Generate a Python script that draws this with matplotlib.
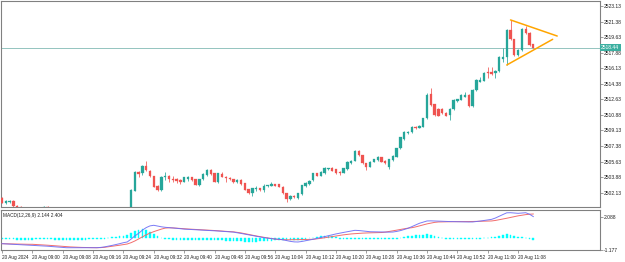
import matplotlib
matplotlib.use("Agg")
import matplotlib.pyplot as plt
import numpy as np

plt.rcParams['font.family'] = ['Liberation Sans', 'DejaVu Sans']

# ---------------- data ----------------
opens = [2501.50, 2500.97, 2501.08, 2501.23, 2500.66, 2500.55, 2500.30, 2500.05, 2499.90, 2500.10,
         2500.00, 2500.20, 2500.55, 2500.30, 2500.05, 2499.80, 2499.60, 2499.70, 2499.45, 2499.30,
         2499.40, 2499.25, 2499.35, 2499.20, 2499.30, 2499.50, 2499.40, 2499.60, 2499.75, 2499.65,
         2499.85, 2500.00, 2499.90, 2500.05, 2500.10, 2502.35, 2504.42, 2504.31, 2505.16, 2504.60,
         2504.01, 2502.88, 2502.43, 2503.86, 2504.01, 2503.70, 2503.63, 2503.56, 2503.36, 2503.67,
         2503.86, 2503.63, 2502.99, 2503.63, 2504.12, 2504.68, 2504.31, 2503.33, 2504.23, 2503.93,
         2503.81, 2503.63, 2503.30, 2503.56, 2503.18, 2502.51, 2502.06, 2502.54, 2502.62, 2502.43,
         2502.88, 2502.92, 2503.07, 2503.07, 2502.80, 2502.06, 2501.45, 2501.75, 2501.50, 2501.98,
         2502.88, 2503.11, 2503.56, 2504.31, 2504.04, 2504.31, 2504.76, 2504.94, 2504.76, 2504.49,
         2504.38, 2504.76, 2505.50, 2505.72, 2506.82, 2506.37, 2505.43, 2505.05, 2505.61, 2505.81,
         2506.11, 2505.72, 2504.98, 2505.81, 2506.18, 2507.12, 2508.17, 2508.80, 2508.92, 2509.55,
         2509.44, 2509.55, 2510.49, 2513.19, 2512.07, 2511.51, 2511.51, 2511.12, 2510.87, 2511.51,
         2512.44, 2512.56, 2512.93, 2513.12, 2511.88, 2513.68, 2514.62, 2514.72, 2515.74, 2515.74,
         2515.63, 2515.82, 2517.20, 2517.43, 2520.43, 2519.38, 2517.61, 2518.18, 2520.51, 2520.13,
         2518.82]
highs = [2501.60, 2501.30, 2501.28, 2501.30, 2500.72, 2500.60, 2500.35, 2500.15, 2500.20, 2500.25,
         2500.30, 2500.62, 2500.62, 2500.35, 2500.10, 2499.90, 2499.80, 2499.75, 2499.55, 2499.50,
         2499.50, 2499.45, 2499.40, 2499.40, 2499.60, 2499.60, 2499.70, 2499.85, 2499.85, 2499.95,
         2500.10, 2500.10, 2500.15, 2500.20, 2502.50, 2504.55, 2504.60, 2505.20, 2505.69, 2504.70,
         2504.05, 2502.95, 2504.00, 2504.49, 2504.10, 2504.00, 2503.75, 2503.65, 2503.93, 2504.05,
         2503.95, 2503.70, 2503.70, 2504.30, 2504.80, 2504.75, 2504.35, 2504.40, 2504.45, 2504.05,
         2503.90, 2503.70, 2503.62, 2503.62, 2503.22, 2502.60, 2502.70, 2502.85, 2502.70, 2503.11,
         2503.05, 2503.33, 2503.15, 2503.12, 2502.85, 2502.10, 2501.85, 2501.85, 2502.12, 2503.05,
         2503.35, 2503.56, 2504.40, 2504.40, 2504.60, 2504.98, 2504.95, 2505.00, 2504.82, 2504.55,
         2504.95, 2505.70, 2505.80, 2506.90, 2506.90, 2506.42, 2505.50, 2505.70, 2505.95, 2506.25,
         2506.18, 2505.78, 2505.95, 2506.32, 2507.20, 2508.42, 2509.05, 2509.10, 2509.62, 2509.62,
         2509.75, 2510.55, 2513.38, 2513.87, 2512.15, 2511.60, 2511.60, 2511.20, 2511.60, 2512.65,
         2512.72, 2513.20, 2513.49, 2513.20, 2513.75, 2514.88, 2515.18, 2515.70, 2516.30, 2516.30,
         2515.95, 2517.50, 2518.37, 2520.50, 2521.56, 2519.45, 2518.25, 2520.60, 2520.88, 2520.20,
         2518.90]
lows = [2500.95, 2500.90, 2501.00, 2500.55, 2500.40, 2500.25, 2499.95, 2499.80, 2499.85, 2499.90,
        2499.95, 2500.15, 2500.30, 2499.95, 2499.70, 2499.50, 2499.50, 2499.35, 2499.20, 2499.20,
        2499.15, 2499.15, 2499.10, 2499.10, 2499.25, 2499.30, 2499.35, 2499.50, 2499.55, 2499.60,
        2499.80, 2499.80, 2499.85, 2500.00, 2500.00, 2502.30, 2503.93, 2504.08, 2504.60, 2503.95,
        2502.75, 2502.30, 2502.35, 2503.56, 2503.36, 2503.30, 2503.18, 2503.10, 2503.30, 2503.50,
        2503.50, 2502.95, 2502.90, 2503.55, 2504.05, 2504.15, 2503.28, 2503.25, 2503.88, 2503.30,
        2503.55, 2503.20, 2503.22, 2503.05, 2502.38, 2501.98, 2501.78, 2502.33, 2502.35, 2502.24,
        2502.80, 2502.88, 2502.85, 2502.75, 2502.00, 2501.11, 2501.31, 2501.55, 2501.45, 2501.90,
        2502.80, 2503.05, 2503.50, 2503.98, 2503.98, 2504.25, 2504.70, 2504.55, 2504.25, 2504.10,
        2504.30, 2504.70, 2505.40, 2505.65, 2506.30, 2505.38, 2504.68, 2504.98, 2505.55, 2505.75,
        2505.55, 2505.35, 2504.85, 2505.75, 2506.12, 2507.05, 2508.10, 2508.72, 2508.85, 2509.30,
        2509.38, 2509.48, 2510.42, 2511.90, 2510.80, 2510.70, 2510.98, 2510.70, 2510.31, 2511.45,
        2512.35, 2512.50, 2512.88, 2511.80, 2511.80, 2513.60, 2514.55, 2514.65, 2515.00, 2515.40,
        2514.99, 2515.75, 2516.86, 2516.49, 2519.30, 2517.55, 2517.50, 2518.10, 2520.00, 2518.68,
        2518.35]
closes = [2501.00, 2501.23, 2501.20, 2500.63, 2500.48, 2500.37, 2500.05, 2499.90, 2500.10, 2500.00,
          2500.20, 2500.55, 2500.37, 2500.05, 2499.80, 2499.60, 2499.70, 2499.45, 2499.30, 2499.40,
          2499.25, 2499.35, 2499.20, 2499.30, 2499.50, 2499.40, 2499.60, 2499.75, 2499.65, 2499.85,
          2500.00, 2499.90, 2500.05, 2500.10, 2502.43, 2504.49, 2504.20, 2505.13, 2504.68, 2504.01,
          2502.80, 2502.43, 2503.93, 2504.01, 2503.63, 2503.56, 2503.44, 2503.30, 2503.86, 2503.86,
          2503.56, 2502.99, 2503.63, 2504.23, 2504.68, 2504.23, 2503.33, 2504.31, 2503.93, 2503.81,
          2503.63, 2503.30, 2503.56, 2503.11, 2502.43, 2502.06, 2502.62, 2502.69, 2502.43, 2502.92,
          2502.99, 2503.07, 2502.92, 2502.80, 2502.06, 2501.38, 2501.75, 2501.61, 2502.06, 2502.99,
          2503.25, 2503.44, 2504.31, 2504.04, 2504.49, 2504.87, 2504.87, 2504.60, 2504.31, 2504.31,
          2504.87, 2505.61, 2505.69, 2506.82, 2506.37, 2505.43, 2504.98, 2505.61, 2505.88, 2506.18,
          2505.61, 2505.43, 2505.88, 2506.26, 2507.12, 2508.36, 2508.92, 2508.99, 2509.55, 2509.37,
          2509.66, 2510.49, 2513.12, 2511.99, 2510.87, 2510.76, 2511.06, 2510.76, 2511.51, 2512.56,
          2512.63, 2513.12, 2513.12, 2511.88, 2513.68, 2514.81, 2514.81, 2515.62, 2515.56, 2515.48,
          2515.85, 2517.43, 2517.43, 2520.43, 2519.38, 2517.61, 2518.18, 2520.51, 2520.06, 2518.74,
          2518.44]

macd_line = [-0.55, -0.57, -0.59, -0.61, -0.64, -0.66, -0.68, -0.70, -0.71, -0.73,
             -0.75, -0.77, -0.80, -0.83, -0.86, -0.89, -0.92, -0.95, -0.95, -0.96,
             -0.96, -0.96, -0.95, -0.95, -0.95, -0.95, -0.92, -0.87, -0.80, -0.72,
             -0.64, -0.55, -0.45, -0.38, -0.10, 0.22, 0.48, 0.80, 1.05, 1.22,
             1.28, 1.20, 1.13, 1.08, 1.05, 1.02, 0.98, 0.94, 0.90, 0.88,
             0.86, 0.84, 0.82, 0.80, 0.78, 0.76, 0.74, 0.71, 0.68, 0.65,
             0.62, 0.60, 0.54, 0.47, 0.40, 0.32, 0.26, 0.19, 0.12, 0.05,
             0.00, -0.05, -0.09, -0.11, -0.16, -0.24, -0.32, -0.37, -0.38, -0.33,
             -0.26, -0.18, -0.11, -0.02, 0.07, 0.17, 0.26, 0.35, 0.42, 0.50,
             0.57, 0.64, 0.71, 0.78, 0.76, 0.72, 0.67, 0.64, 0.63, 0.62,
             0.61, 0.60, 0.60, 0.61, 0.67, 0.75, 0.86, 0.98, 1.15, 1.32,
             1.48, 1.60, 1.71, 1.72, 1.71, 1.70, 1.68, 1.66, 1.65, 1.64,
             1.63, 1.62, 1.62, 1.61, 1.61, 1.65, 1.70, 1.76, 1.81, 1.87,
             2.00, 2.18, 2.35, 2.52, 2.53, 2.50, 2.47, 2.50, 2.53, 2.38,
             2.144]
signal_line = [-0.55, -0.56, -0.57, -0.58, -0.59, -0.60, -0.60, -0.61, -0.61, -0.63,
               -0.65, -0.68, -0.70, -0.73, -0.76, -0.79, -0.82, -0.85, -0.87, -0.89,
               -0.91, -0.92, -0.93, -0.94, -0.95, -0.95, -0.94, -0.91, -0.86, -0.81,
               -0.76, -0.70, -0.64, -0.58, -0.45, -0.28, -0.08, 0.12, 0.33, 0.50,
               0.65, 0.78, 0.90, 1.00, 1.03, 1.02, 0.99, 0.96, 0.93, 0.91,
               0.89, 0.87, 0.85, 0.83, 0.81, 0.79, 0.76, 0.73, 0.70, 0.67,
               0.65, 0.63, 0.58, 0.52, 0.45, 0.37, 0.29, 0.22, 0.15, 0.08,
               0.02, -0.04, -0.09, -0.13, -0.15, -0.16, -0.16, -0.16, -0.15, -0.14,
               -0.13, -0.12, -0.11, -0.07, -0.02, 0.04, 0.10, 0.16, 0.22, 0.28,
               0.33, 0.38, 0.42, 0.45, 0.48, 0.50, 0.52, 0.53, 0.54, 0.54,
               0.56, 0.60, 0.66, 0.73, 0.80, 0.87, 0.94, 1.00, 1.04, 1.12,
               1.22, 1.32, 1.42, 1.50, 1.57, 1.61, 1.62, 1.63, 1.63, 1.64,
               1.64, 1.64, 1.64, 1.65, 1.66, 1.67, 1.68, 1.69, 1.70, 1.71,
               1.76, 1.83, 1.90, 1.98, 2.06, 2.14, 2.22, 2.28, 2.34, 2.38,
               2.404]
macd_hist = [-0.12, -0.12, -0.13, -0.13, -0.14, -0.14, -0.15, -0.15, -0.14, -0.13,
             -0.12, -0.11, -0.12, -0.13, -0.14, -0.15, -0.15, -0.16, -0.16, -0.15,
             -0.15, -0.14, -0.14, -0.13, -0.12, -0.10, -0.07, -0.04, 0.02, 0.08,
             0.14, 0.19, 0.25, 0.36, 0.52, 0.70, 0.86, 0.95, 0.85, 0.62,
             0.40, 0.20, 0.05, -0.08, -0.12, -0.14, -0.15, -0.15, -0.15, -0.15,
             -0.15, -0.15, -0.15, -0.15, -0.15, -0.15, -0.18, -0.20, -0.22, -0.24,
             -0.26, -0.28, -0.30, -0.32, -0.34, -0.35, -0.36, -0.35, -0.33, -0.30,
             -0.27, -0.24, -0.21, -0.19, -0.19, -0.19, -0.19, -0.19, -0.19, -0.19,
             -0.19, -0.02, 0.05, 0.12, 0.18, 0.22, 0.22, 0.18, 0.08, -0.05,
             -0.10, -0.10, -0.10, -0.10, -0.10, -0.10, -0.10, -0.10, -0.10, -0.10,
             -0.10, -0.10, -0.10, -0.10, -0.10, 0.05, 0.12, 0.18, 0.24, 0.28,
             0.30, 0.34, 0.39, 0.35, 0.25, 0.12, -0.02, -0.12, -0.12, -0.12,
             -0.12, -0.12, -0.12, -0.12, -0.12, -0.12, -0.12, 0.00, 0.05, 0.10,
             0.14, 0.20, 0.30, 0.39, 0.30, 0.20, 0.14, 0.12, 0.06, -0.08,
             -0.20]

time_labels = ["20 Aug 2024", "20 Aug 09:00", "20 Aug 09:08", "20 Aug 09:16", "20 Aug 09:24",
               "20 Aug 09:32", "20 Aug 09:40", "20 Aug 09:48", "20 Aug 09:56", "20 Aug 10:04",
               "20 Aug 10:12", "20 Aug 10:20", "20 Aug 10:28", "20 Aug 10:36", "20 Aug 10:44",
               "20 Aug 10:52", "20 Aug 11:00", "20 Aug 11:08"]
bars_per_label = 8
price_ticks = [2502.13, 2503.88, 2505.63, 2507.38, 2509.13, 2510.88, 2512.63,
               2514.38, 2516.13, 2517.88, 2519.63, 2521.38, 2523.13]
macd_ticks = [-1.177, 2.088]
macd_legend = "MACD(12,26,9) 2.144 2.404"

# triangle trend lines (bar index, price)
upper_line_idx = [134, 146.3]
upper_line_price = [2521.56, 2519.75]
lower_line_idx = [133, 145.1]
lower_line_price = [2516.49, 2519.38]

# ---------------- drawing ----------------
W, H = 625, 262
fig = plt.figure(figsize=(W / 100, H / 100), dpi=100)
fig.patch.set_facecolor("white")

def fx(px):
    return px / W

def fy(py):
    return 1 - py / H

ax = fig.add_axes([fx(1), fy(207), fx(599), (207 - 1) / H])
ax2 = fig.add_axes([fx(1), fy(250), fx(599), (250 - 210) / H], sharex=ax)

n = len(closes)
idx = np.arange(n)
o = np.array(opens); c = np.array(closes); h = np.array(highs); l = np.array(lows)
up = c >= o
TEAL = "#26A69A"
RED = "#EF5350"
cols = np.where(up, TEAL, RED)

ax.vlines(idx, l, h, colors=cols, linewidth=0.55, zorder=2)
body_bottom = np.minimum(o, c)
body_h = np.maximum(np.abs(c - o), 0.06)
ax.bar(idx, body_h, bottom=body_bottom, width=0.62, color=cols, edgecolor=cols,
       linewidth=0.2, zorder=3)

# current price line
last = closes[-1]
ax.axhline(last, color="#93C4BF", linewidth=0.7, zorder=1)
ax.text(1.002, last, f"{last:.2f}", transform=ax.get_yaxis_transform(),
        fontsize=3.6, color="white", va="center", ha="left", clip_on=False,
        bbox=dict(boxstyle="square,pad=0.25", facecolor="#3BAFA0", edgecolor="none"))

# triangle
ax.plot(upper_line_idx, upper_line_price, color="#FFA500", linewidth=1.1, zorder=4,
        solid_capstyle="round")
ax.plot(lower_line_idx, lower_line_price, color="#FFA500", linewidth=1.1, zorder=4,
        solid_capstyle="round")

x_left = -0.26
x_right = (600 - 2) / 3.795
ax.set_xlim(x_left, x_right)
ax.set_ylim(2500.52, 2523.69)

ax.yaxis.tick_right()
ax.set_yticks(price_ticks)
ax.set_yticklabels([f"{t:.2f}" for t in price_ticks])
ax.tick_params(axis="y", labelsize=3.6, length=2, width=0.4, color="#555555",
               labelcolor="#222222", pad=1)
ax.tick_params(axis="x", bottom=False, labelbottom=False)

for a in (ax, ax2):
    for s in a.spines.values():
        s.set_color("#808080")
        s.set_linewidth(0.8)
    a.set_facecolor("white")

# MACD panel
ax2.bar(idx, macd_hist, width=0.45, color="#00FFFF", edgecolor="#00FFFF", linewidth=0.3, zorder=2)
ax2.plot(idx, signal_line, color="#F26D6D", linewidth=0.7, zorder=3)
ax2.plot(idx, macd_line, color="#6C6CF5", linewidth=0.7, zorder=4, alpha=0.9)
ax2.set_ylim(-1.177, 2.80)
ax2.yaxis.tick_right()
ax2.set_yticks(macd_ticks)
ax2.set_yticklabels([f"{t:.3f}" for t in macd_ticks])
ax2.tick_params(axis="y", labelsize=3.6, length=2, width=0.4, color="#555555",
                labelcolor="#222222", pad=1)
ax2.text(0.003, 0.93, macd_legend, transform=ax2.transAxes, fontsize=3.4,
         color="#222222", va="top", ha="left")

tick_pos = [k * bars_per_label for k in range(len(time_labels))]
ax2.set_xticks(tick_pos)
ax2.set_xticklabels(time_labels, ha="left")
ax2.tick_params(axis="x", labelsize=3.4, length=2, width=0.4, color="#555555",
                labelcolor="#222222", pad=1.5)
ax2.set_xlim(x_left, x_right)

fig.savefig("out.png", dpi=100, facecolor="white")
